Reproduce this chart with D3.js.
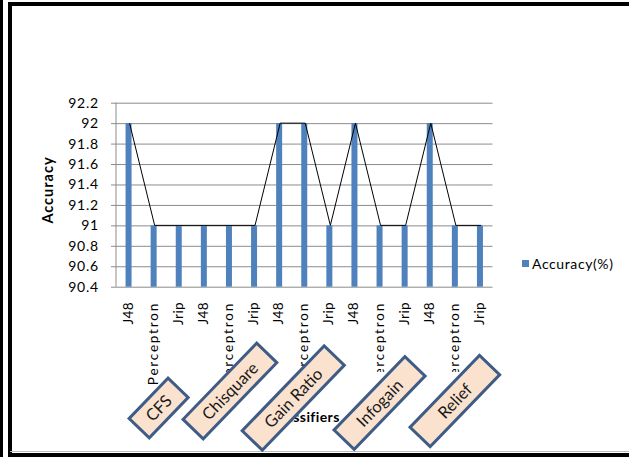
<!DOCTYPE html>
<html>
<head>
<meta charset="utf-8">
<script src="https://cdn.jsdelivr.net/npm/d3@7"></script>
<style>
  html, body { margin: 0; padding: 0; background: #fff; }
  svg { display: block; }
  text { font-family: Lato, "Open Sans", sans-serif; }
</style>
</head>
<body>
<svg id="chart" width="629" height="457"></svg>
<script>
// Classifier accuracy for each feature-selection method
const classifiers = ["J48", "Perceptron", "Jrip", "J48", "Perceptron", "Jrip", "J48", "Perceptron", "Jrip",
                     "J48", "Perceptron", "Jrip", "J48", "Perceptron", "Jrip"];
const methods = ["CFS", "Chisquare", "Gain Ratio", "Infogain", "Relief"];
const accuracy = [92, 91, 91, 91, 91, 91, 92, 92, 91, 92, 91, 91, 92, 91, 91];
const yTicks = [90.4, 90.6, 90.8, 91, 91.2, 91.4, 91.6, 91.8, 92, 92.2];
const seriesName = "Accuracy(%)";

const svg = d3.select("#chart");

// Frame lines around the chart
const frame = svg.append("g");
frame.append("rect").attr("x", 0).attr("y", 0).attr("width", 3).attr("height", 457).attr("fill", "#000");
frame.append("rect").attr("x", 8).attr("y", 2).attr("width", 4).attr("height", 455).attr("fill", "#000");
frame.append("rect").attr("x", 8).attr("y", 2).attr("width", 621).attr("height", 4).attr("fill", "#000");
frame.append("rect").attr("x", 10).attr("y", 451).attr("width", 619).attr("height", 1).attr("fill", "#bbb");
frame.append("rect").attr("x", 10).attr("y", 453).attr("width", 619).attr("height", 4).attr("fill", "#000");

const plot = { left: 116, right: 492.5, top: 102.7, bottom: 286.7 };

const x = d3.scaleBand().domain(d3.range(classifiers.length)).range([plot.left, plot.right]);
const y = d3.scaleLinear().domain([90.4, 92.2]).range([plot.bottom, plot.top]);

// Horizontal gridlines with outside tick marks
const yAxis = d3.axisLeft(y).tickValues(yTicks).tickSize(-(plot.right - plot.left)).tickPadding(17)
  .tickFormat(d => d3.format("")(+d.toFixed(1)));
const gy = svg.append("g").attr("transform", `translate(${plot.left},0)`).call(yAxis);
gy.select(".domain").remove();
gy.selectAll(".tick line").attr("stroke", "#8c8c8c").attr("x1", -5);
gy.selectAll(".tick text").attr("fill", "#000").style("font-size", "14px").style("letter-spacing", "0.8px");

// Value axis line
svg.append("line").attr("x1", plot.left).attr("x2", plot.left).attr("y1", plot.top).attr("y2", plot.bottom)
  .attr("stroke", "#8c8c8c");

// Bars
const barW = 6;
svg.append("g").selectAll("rect").data(accuracy).join("rect")
  .attr("x", (d, i) => x(i) + x.bandwidth() / 2 - barW / 2)
  .attr("y", d => y(d))
  .attr("width", barW)
  .attr("height", d => y(90.4) - y(d))
  .attr("fill", "#4F81BD");

// Connecting line over the bar tops
svg.append("path").datum(accuracy)
  .attr("fill", "none").attr("stroke", "#000").attr("stroke-width", 1)
  .attr("d", d3.line().x((d, i) => x(i) + x.bandwidth() / 2 + 1).y(d => y(d)));

// Category labels, rotated
const defs = svg.append("defs");
defs.append("clipPath").attr("id", "labelClip")
  .append("rect").attr("x", 0).attr("y", 0).attr("width", 629).attr("height", 372);
const labels = svg.append("g");
classifiers.forEach((c, i) => {
  const cx = x(i) + x.bandwidth() / 2 + 4;
  const g = labels.append("g");
  if (c === "Perceptron" && i !== 1) g.attr("clip-path", "url(#labelClip)");
  g.append("text")
    .attr("transform", `translate(${cx},302) rotate(-90)`)
    .attr("text-anchor", "end")
    .attr("fill", "#000")
    .style("font-size", "13.5px")
    .style("letter-spacing", c === "Perceptron" ? "1.8px" : "0.4px")
    .text(c);
});

// Axis titles
svg.append("text")
  .attr("transform", "translate(53,190) rotate(-90)")
  .attr("text-anchor", "middle")
  .style("font-size", "14.5px").style("font-weight", "bold").style("letter-spacing", "1px")
  .text("Accuracy");
svg.append("text")
  .attr("x", 306).attr("y", 422)
  .attr("text-anchor", "middle")
  .style("font-size", "14px").style("font-weight", "bold").style("letter-spacing", "0.4px")
  .text("Classifiers");

// Method callouts, one per group of three classifiers
const boxLayout = [
  { dx: 5, cy: 408, w: 56 },
  { dx: 1, cy: 391, w: 106 },
  { dx: -11, cy: 398, w: 118 },
  { dx: 0, cy: 403, w: 102 },
  { dx: 0, cy: 401, w: 100 }
];
const boxH = 28;
methods.forEach((m, k) => {
  const L = boxLayout[k];
  const gx = (x(k * 3) + x(k * 3 + 2) + x.bandwidth()) / 2 + L.dx;
  const g = svg.append("g").attr("transform", `translate(${gx},${L.cy}) rotate(-46)`);
  g.append("rect")
    .attr("x", -L.w / 2).attr("y", -boxH / 2).attr("width", L.w).attr("height", boxH)
    .attr("fill", "#FAE2CF").attr("stroke", "#3E5C86").attr("stroke-width", 3);
  g.append("text")
    .attr("text-anchor", "middle").attr("dy", "0.36em")
    .attr("fill", "#1a1a1a")
    .style("font-size", "16.5px")
    .text(m);
});

// Legend
const leg = svg.append("g").attr("transform", "translate(522,260)");
leg.append("rect").attr("width", 7).attr("height", 7).attr("fill", "#4F81BD");
leg.append("text").attr("x", 10).attr("y", 4).attr("dy", "0.36em")
  .style("font-size", "14px").style("letter-spacing", "0.6px").text(seriesName);
</script>
</body>
</html>
